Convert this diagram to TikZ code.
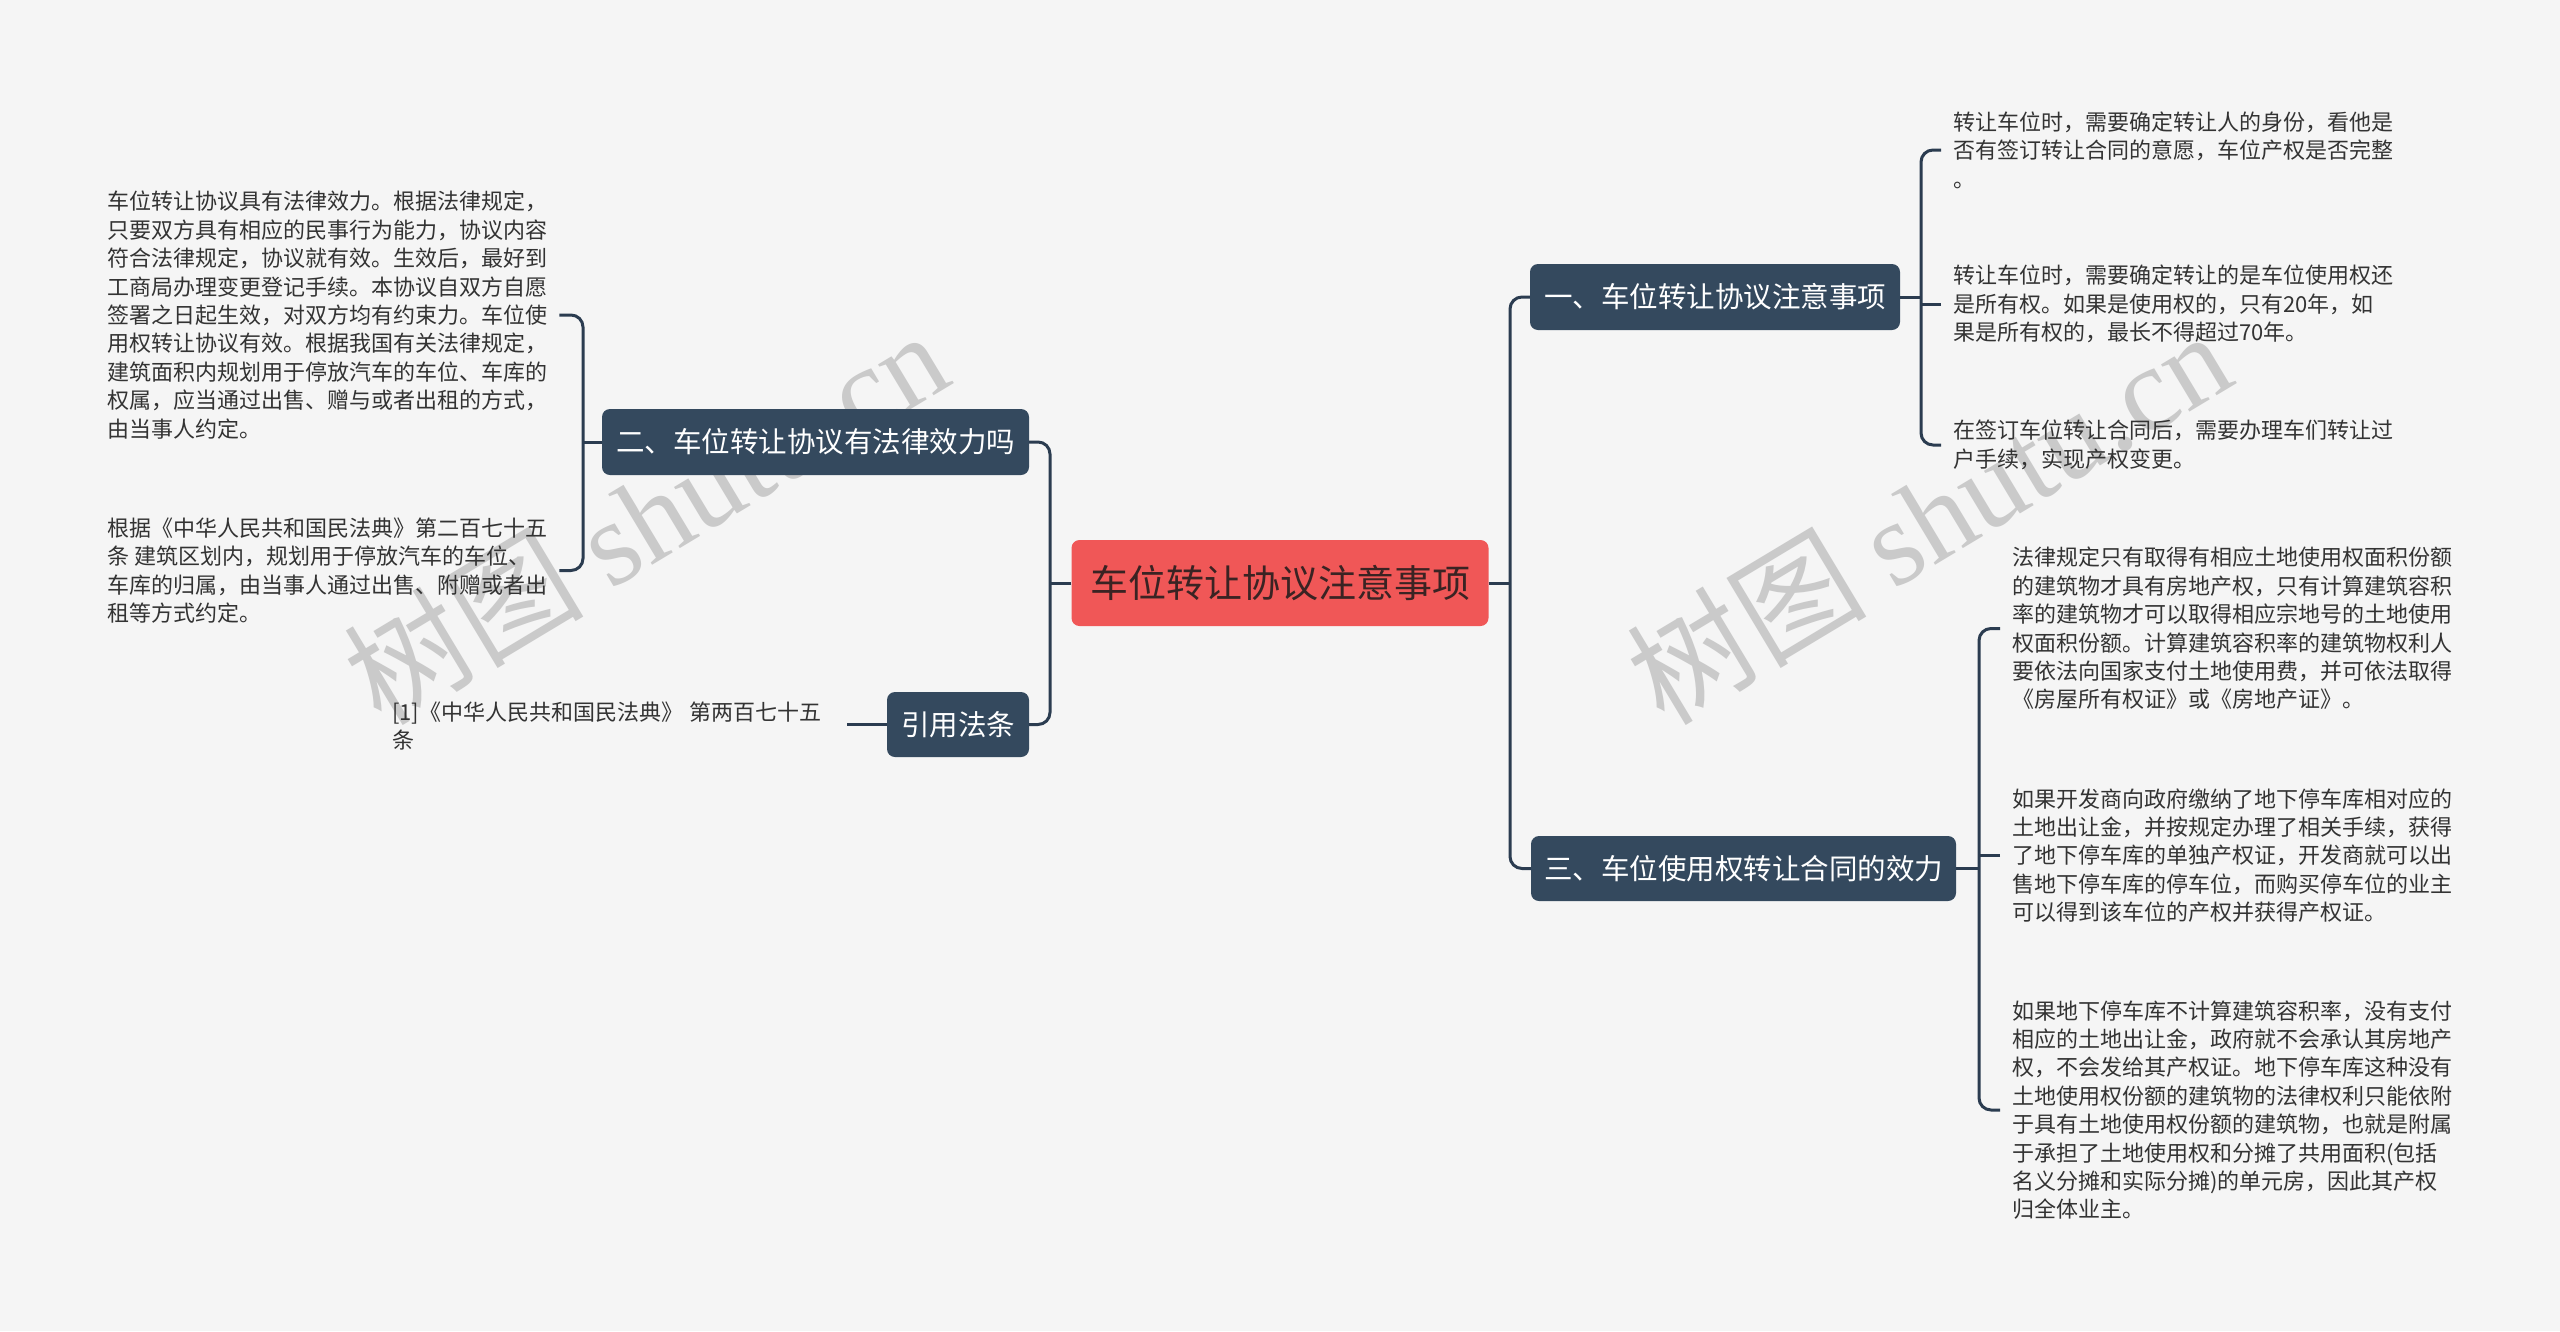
\documentclass[tikz,border=0pt]{standalone}
\usepackage{fontspec}
\setmainfont{Noto Sans CJK SC}
\newfontfamily\wmlatin{Liberation Serif}
\definecolor{bgcol}{HTML}{F5F5F5}
\definecolor{topicblue}{HTML}{34495E}
\definecolor{rootred}{HTML}{F05757}
\definecolor{roottext}{HTML}{3A2323}
\definecolor{linecol}{HTML}{2B3C50}
\definecolor{leafgray}{HTML}{333333}
\definecolor{wmgray}{HTML}{CACACA}
\begin{document}
\begin{tikzpicture}[x=1pt,y=-1pt,
  topic/.style={fill=topicblue, rounded corners=8pt, text=white,
    font=\fontsize{28.5}{34}\selectfont, inner sep=0pt, minimum height=66pt, align=center},
  rootbox/.style={fill=rootred, rounded corners=8pt, text=roottext,
    font=\fontsize{38}{46}\selectfont, inner sep=0pt, minimum width=417pt, minimum height=86pt},
  leaf/.style={inner xsep=12pt, inner ysep=0pt, align=left, text=leafgray,
    font=\fontsize{22}{28.4}\selectfont, anchor=west},
  conn/.style={draw=linecol, line width=3pt, rounded corners=12pt},
  wm/.style={text=wmgray, font=\fontsize{120}{130}\selectfont, inner sep=0pt, rotate=31}]
\useasboundingbox (0,0) rectangle (2560,1331);
\fill[bgcol] (0,0) rectangle (2560,1331);

% watermarks
\node[wm] (wm1) at (645,516) {树图 {\wmlatin shutu.cn}};
\node[wm] (wm2) at (1928,516) {树图 {\wmlatin shutu.cn}};

% main nodes
\node[rootbox] (root) at (1280,583) {车位转让协议注意事项};
\node[topic, minimum width=370pt] (t1) at (1715,297) {一、车位转让协议注意事项};
\node[topic, minimum width=425pt, minimum height=65pt] (t3) at (1743.5,868.5) {三、车位使用权转让合同的效力};
\node[topic, minimum width=427pt] (t2) at (815.5,442) {二、车位转让协议有法律效力吗};
\node[topic, minimum width=142pt, minimum height=65pt] (t4) at (958,724.5) {引用法条};

% leaves left
\node[leaf] (l1) at (95,315) {车位转让协议具有法律效力。根据法律规定，\\只要双方具有相应的民事行为能力，协议内容\\符合法律规定，协议就有效。生效后，最好到\\工商局办理变更登记手续。本协议自双方自愿\\签署之日起生效，对双方均有约束力。车位使\\用权转让协议有效。根据我国有关法律规定，\\建筑面积内规划用于停放汽车的车位、车库的\\权属，应当通过出售、赠与或者出租的方式，\\由当事人约定。};
\node[leaf] (l2) at (95,570.5) {根据《中华人民共和国民法典》第二百七十五\\条 建筑区划内，规划用于停放汽车的车位、\\车库的归属，由当事人通过出售、附赠或者出\\租等方式约定。};
\node[leaf] (ref) at (380,726) {[1]《中华人民共和国民法典》\hspace{6pt}第两百七十五\\条};

% leaves right (group 1)
\node[leaf] (r1) at (1941,150) {转让车位时，需要确定转让人的身份，看他是\\否有签订转让合同的意愿，车位产权是否完整\\。};
\node[leaf] (r2) at (1941,304) {转让车位时，需要确定转让的是车位使用权还\\是所有权。如果是使用权的，只有20年，如\\果是所有权的，最长不得超过70年。};
\node[leaf] (r3) at (1941,445) {在签订车位转让合同后，需要办理车们转让过\\户手续，实现产权变更。};

% leaves right (group 3)
\node[leaf] (s1) at (2000,628.5) {法律规定只有取得有相应土地使用权面积份额\\的建筑物才具有房地产权，只有计算建筑容积\\率的建筑物才可以取得相应宗地号的土地使用\\权面积份额。计算建筑容积率的建筑物权利人\\要依法向国家支付土地使用费，并可依法取得\\《房屋所有权证》或《房地产证》。};
\node[leaf] (s2) at (2000,855.5) {如果开发商向政府缴纳了地下停车库相对应的\\土地出让金，并按规定办理了相关手续，获得\\了地下停车库的单独产权证，开发商就可以出\\售地下停车库的停车位，而购买停车位的业主\\可以得到该车位的产权并获得产权证。};
\node[leaf] (s3) at (2000,1110) {如果地下停车库不计算建筑容积率，没有支付\\相应的土地出让金，政府就不会承认其房地产\\权，不会发给其产权证。地下停车库这种没有\\土地使用权份额的建筑物的法律权利只能依附\\于具有土地使用权份额的建筑物，也就是附属\\于承担了土地使用权和分摊了共用面积(包括\\名义分摊和实际分摊)的单元房，因此其产权\\归全体业主。};

% junction coordinates
\coordinate (jr) at (1510,583);
\coordinate (jl) at (1050,583);
\coordinate (j1) at (1921,297);
\coordinate (j2) at (583,442);
\coordinate (j3) at (1979,868.5);
\coordinate (refend) at (847,724.5);

% connectors
\draw[conn] (root.east) -- (jr);
\draw[conn] (t1.west) -| (jr) |- (t3.west);
\draw[conn] (root.west) -- (jl);
\draw[conn] (t2.east) -| (jl) |- (t4.east);

\draw[conn] (t2.west) -- (j2);
\draw[conn] (l1.east) -| (j2) |- (l2.east);
\draw[conn] (t4.west) -- (refend);

\draw[conn] (t1.east) -- (j1);
\draw[conn] (r1.west) -| (j1) |- (r3.west);
\draw[conn] (r2.west) -- (r2.west -| j1);

\draw[conn] (t3.east) -- (j3);
\draw[conn] (s1.west) -| (j3) |- (s3.west);
\draw[conn] (s2.west) -- (s2.west -| j3);
\end{tikzpicture}
\end{document}
